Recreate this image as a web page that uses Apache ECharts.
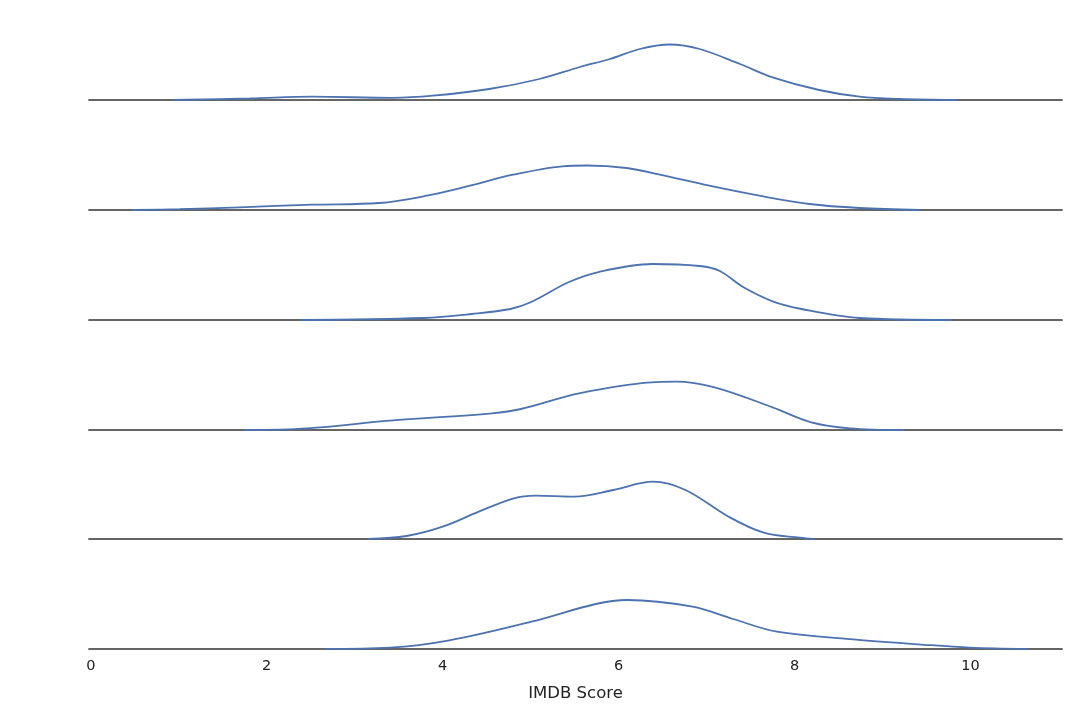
<!DOCTYPE html>
<html>
<head>
<meta charset="utf-8">
<script src="https://cdn.jsdelivr.net/npm/echarts@6/dist/echarts.min.js"></script>
<style>
html,body{margin:0;padding:0;background:#fff;}
#chart{width:1080px;height:719px;}
</style>
</head>
<body>
<div id="chart"></div>
<script>
// IMDB score values (x) and estimated density (y) for each ridge, top to bottom
const scoreRow1 = [0.93, 1.81, 2.52, 3.43, 3.89, 4.53, 5.10, 5.56, 5.90, 6.24, 6.58, 6.92, 7.38, 7.75, 8.28, 8.74, 9.19, 9.84];
const densityRow1 = [0, 0.015, 0.033, 0.022, 0.043, 0.11, 0.21, 0.33, 0.41, 0.51, 0.555, 0.51, 0.36, 0.227, 0.10, 0.033, 0.01, 0];

const scoreRow2 = [0.47, 1.01, 1.69, 2.52, 3.28, 3.82, 4.31, 4.80, 5.36, 5.64, 6.09, 6.47, 7.03, 7.60, 8.17, 8.74, 9.42];
const densityRow2 = [0, 0.008, 0.027, 0.053, 0.07, 0.143, 0.243, 0.353, 0.437, 0.445, 0.42, 0.353, 0.243, 0.143, 0.06, 0.02, 0];

const scoreRow3 = [2.38, 3.78, 4.33, 4.77, 5.00, 5.43, 5.76, 6.38, 6.92, 7.15, 7.42, 7.75, 8.08, 8.74, 9.78];
const densityRow3 = [0, 0.02, 0.06, 0.11, 0.177, 0.377, 0.477, 0.56, 0.54, 0.49, 0.327, 0.187, 0.11, 0.02, 0];

const scoreRow4 = [1.74, 2.46, 3.40, 4.56, 4.89, 5.55, 6.37, 6.65, 7.09, 7.75, 8.19, 8.63, 9.24];
const densityRow4 = [0, 0.017, 0.093, 0.167, 0.21, 0.367, 0.477, 0.483, 0.427, 0.227, 0.077, 0.017, 0];

const scoreRow5 = [3.15, 3.59, 4.00, 4.41, 4.81, 5.06, 5.50, 5.94, 6.39, 6.76, 7.25, 7.65, 8.06, 8.22];
const densityRow5 = [0, 0.03, 0.123, 0.273, 0.407, 0.433, 0.423, 0.49, 0.573, 0.49, 0.223, 0.063, 0.013, 0];

const scoreRow6 = [2.66, 3.40, 4.06, 5.01, 5.74, 6.10, 6.84, 7.30, 7.80, 8.67, 9.41, 9.99, 10.65];
const densityRow6 = [0, 0.013, 0.083, 0.273, 0.45, 0.49, 0.423, 0.30, 0.173, 0.097, 0.047, 0.013, 0];

const axisTitle = 'IMDB Score';

const rows = [
  [scoreRow1, densityRow1],
  [scoreRow2, densityRow2],
  [scoreRow3, densityRow3],
  [scoreRow4, densityRow4],
  [scoreRow5, densityRow5],
  [scoreRow6, densityRow6]
];
const baselines = [100, 210, 320, 430, 539, 649];

const chart = echarts.init(document.getElementById('chart'), null, {renderer: 'canvas'});
const grids = [], xAxes = [], yAxes = [], series = [];
rows.forEach((r, i) => {
  const last = i === rows.length - 1;
  grids.push({left: 89, right: 18, top: baselines[i] - 100, height: 100});
  xAxes.push({
    type: 'value', gridIndex: i, min: -0.02, max: 11.04, splitNumber: 5,
    axisLine: {show: true, lineStyle: {color: '#333333', width: 1.7}},
    axisTick: {show: false},
    splitLine: {show: false},
    axisLabel: {show: last, showMinLabel: false, showMaxLabel: false, color: '#222222', fontSize: 14.5, fontFamily: 'DejaVu Sans', margin: 10},
    name: last ? axisTitle : '',
    nameLocation: 'middle', nameGap: 36,
    nameTextStyle: {color: '#222222', fontSize: 16.5, fontFamily: 'DejaVu Sans'}
  });
  yAxes.push({type: 'value', gridIndex: i, min: 0, max: 1, show: false});
  series.push({
    type: 'line', xAxisIndex: i, yAxisIndex: i,
    data: r[0].map((x, k) => [x, r[1][k]]),
    smooth: 0.35, showSymbol: false, symbol: 'none',
    lineStyle: {color: '#4c72b0', width: 1.8},
    z: 1
  });
});

chart.setOption({
  animation: false,
  backgroundColor: '#ffffff',
  grid: grids, xAxis: xAxes, yAxis: yAxes, series: series
});
</script>
</body>
</html>
